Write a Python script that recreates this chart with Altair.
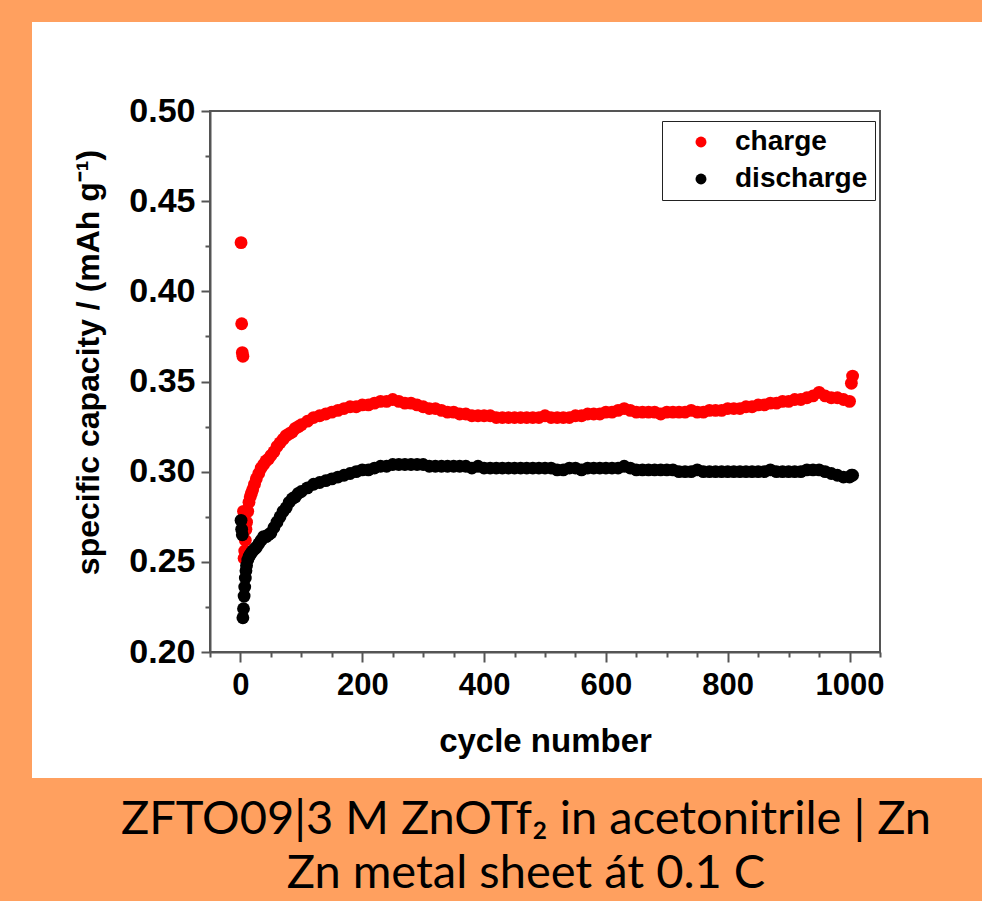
import altair as alt
import pandas as pd

cycles = [1, 2, 3, 4, 5, 6, 7, 8, 9, 10, 12, 14, 16, 18, 20, 23, 26, 30, 34, 38, 42, 46, 50,
          55, 60, 65, 70, 75, 80, 85, 90, 95, 100] + list(range(110, 1001, 10)) + [1003, 1005]

charge = [0.427, 0.382, 0.366, 0.364, 0.278, 0.252, 0.256, 0.262, 0.268, 0.272, 0.278, 0.283,
          0.286, 0.288, 0.290, 0.293, 0.296, 0.299, 0.302, 0.304, 0.306, 0.307, 0.309,
          0.311, 0.314, 0.316, 0.318, 0.320, 0.321, 0.322, 0.324, 0.325, 0.326,
          # 110 .. 200
          0.328, 0.330, 0.331, 0.332, 0.333, 0.334, 0.335, 0.336, 0.336, 0.337,
          # 210 .. 300
          0.337, 0.338, 0.339, 0.339, 0.340, 0.339, 0.338, 0.338, 0.337, 0.336,
          # 310 .. 400
          0.335, 0.335, 0.334, 0.333, 0.333, 0.332, 0.332, 0.331, 0.331, 0.331,
          # 410 .. 500
          0.331, 0.330, 0.330, 0.330, 0.330, 0.330, 0.330, 0.330, 0.330, 0.331,
          # 510 .. 600
          0.330, 0.330, 0.330, 0.330, 0.331, 0.331, 0.332, 0.332, 0.332, 0.333,
          # 610 .. 700
          0.333, 0.334, 0.335, 0.334, 0.333, 0.333, 0.333, 0.333, 0.332, 0.333,
          # 710 .. 800
          0.333, 0.333, 0.333, 0.334, 0.333, 0.333, 0.334, 0.334, 0.334, 0.335,
          # 810 .. 900
          0.335, 0.335, 0.336, 0.336, 0.337, 0.337, 0.338, 0.338, 0.339, 0.339,
          # 910 .. 1000
          0.340, 0.340, 0.341, 0.342, 0.344, 0.342, 0.341, 0.341, 0.340, 0.339,
          0.349, 0.353]

discharge = [0.273, 0.268, 0.265, 0.219, 0.224, 0.231, 0.236, 0.241, 0.245, 0.248, 0.251, 0.253,
             0.254, 0.255, 0.256, 0.257, 0.258, 0.260, 0.262, 0.264, 0.264, 0.265, 0.266,
             0.269, 0.272, 0.275, 0.278, 0.280, 0.283, 0.285, 0.286, 0.288, 0.289,
             # 110 .. 200
             0.291, 0.293, 0.294, 0.295, 0.296, 0.297, 0.298, 0.299, 0.300, 0.301,
             # 210 .. 300
             0.301, 0.302, 0.303, 0.303, 0.304, 0.304, 0.304, 0.304, 0.304, 0.304,
             # 310 .. 400
             0.303, 0.303, 0.303, 0.303, 0.303, 0.303, 0.303, 0.302, 0.303, 0.302,
             # 410 .. 500
             0.302, 0.302, 0.302, 0.302, 0.302, 0.302, 0.302, 0.302, 0.302, 0.302,
             # 510 .. 600
             0.302, 0.301, 0.301, 0.302, 0.302, 0.301, 0.302, 0.302, 0.302, 0.302,
             # 610 .. 700
             0.302, 0.302, 0.303, 0.302, 0.301, 0.301, 0.301, 0.301, 0.301, 0.301,
             # 710 .. 800
             0.301, 0.300, 0.300, 0.300, 0.301, 0.300, 0.300, 0.300, 0.300, 0.300,
             # 810 .. 900
             0.300, 0.300, 0.300, 0.300, 0.300, 0.300, 0.301, 0.300, 0.300, 0.300,
             # 910 .. 1000
             0.300, 0.300, 0.301, 0.301, 0.301, 0.300, 0.299, 0.298, 0.297, 0.297,
             0.298, 0.298]

series_names = ["charge", "discharge"]
series_colors = ["#ff0000", "#000000"]
x_ticks = list(range(-50, 1051, 50))
y_ticks = [round(0.2 + 0.025 * i, 3) for i in range(13)]
caption_lines = ["ZFTO09|3 M ZnOTf\u2082 in acetonitrile | Zn", "Zn metal sheet \u00e1t 0.1 C"]

rows = []
for name, vals in zip(series_names, [charge, discharge]):
    for c, v in zip(cycles, vals):
        rows.append({"cycle": c, "capacity": v, "series": name})
df = pd.DataFrame(rows)

W, H = 670, 541
FRAME = "#555555"
FONT = "Liberation Sans"

panel = alt.Chart(alt.Data(values=[{}])).mark_rect(color="white", clip=False).encode(
    x=alt.value(-178), x2=alt.value(772), y=alt.value(-89), y2=alt.value(667)
)

frame = alt.Chart(alt.Data(values=[{}])).mark_rect(
    filled=False, stroke=FRAME, strokeWidth=2, clip=False
).encode(x=alt.value(0), x2=alt.value(W), y=alt.value(0), y2=alt.value(H))

points = alt.Chart(df).mark_circle(size=165, opacity=1).encode(
    x=alt.X("cycle:Q",
            scale=alt.Scale(domain=[-50, 1050], nice=False, zero=False),
            axis=alt.Axis(values=x_ticks,
                          labelExpr="datum.value % 200 === 0 && datum.value >= 0 ? format(datum.value, 'd') : ''",
                          tickSize={"condition": {"test": "datum.value % 200 === 0 && datum.value >= 0", "value": 10}, "value": 5},
                          title="cycle number", grid=False, zindex=1,
                          labelFontSize=31, labelFont=FONT, labelFontWeight="bold",
                          labelPadding=8, labelFlush=False,
                          titleFontSize=33, titleFont=FONT, titleFontWeight="bold",
                          titlePadding=25,
                          domainColor=FRAME, domainWidth=2, tickColor=FRAME, tickWidth=2,
                          labelColor="black", titleColor="black")),
    y=alt.Y("capacity:Q",
            scale=alt.Scale(domain=[0.2, 0.5], nice=False, zero=False),
            axis=alt.Axis(values=y_ticks,
                          labelExpr="round(datum.value * 1000) % 50 === 0 ? format(datum.value, '.2f') : ''",
                          tickSize={"condition": {"test": "round(datum.value * 1000) % 50 === 0", "value": 9}, "value": 5},
                          title="specific capacity / (mAh g\u207b\u00b9)", grid=False, zindex=1,
                          labelFontSize=34, labelFont=FONT, labelFontWeight="bold",
                          labelPadding=6, labelFlush=False,
                          titleFontSize=32, titleFont=FONT, titleFontWeight="bold",
                          titlePadding=23, titleY=251,
                          domainColor=FRAME, domainWidth=2, tickColor=FRAME, tickWidth=2,
                          labelColor="black", titleColor="black")),
    color=alt.Color("series:N",
                    scale=alt.Scale(domain=series_names, range=series_colors),
                    legend=alt.Legend(title=None, orient="none", legendX=452, legendY=10,
                                      fillColor="white", strokeColor="#222222", padding=7,
                                      symbolType="circle", symbolSize=120, symbolOffset=18,
                                      symbolStrokeWidth=0, labelOffset=20,
                                      labelFontSize=28, labelFont=FONT, labelFontWeight="bold",
                                      labelColor="black", rowPadding=9)),
)

cap1 = alt.Chart(alt.Data(values=[{}])).mark_text(
    font="Lato", fontSize=47, color="black", align="center", baseline="alphabetic", clip=False
).encode(x=alt.value(316), y=alt.value(723), text=alt.value(caption_lines[0]))

cap2 = alt.Chart(alt.Data(values=[{}])).mark_text(
    font="Lato", fontSize=47, color="black", align="center", baseline="alphabetic", clip=False
).encode(x=alt.value(316), y=alt.value(777), text=alt.value(caption_lines[1]))

chart = alt.layer(panel, points, frame, cap1, cap2).properties(
    width=W, height=H,
    background="#FFA05F",
    padding={"left": 210, "top": 111, "right": 102, "bottom": 249},
    autosize=alt.AutoSizeParams(type="none"),
).configure_view(stroke=None)

chart.save("out.html", embed_options={"renderer": "svg", "actions": False})
